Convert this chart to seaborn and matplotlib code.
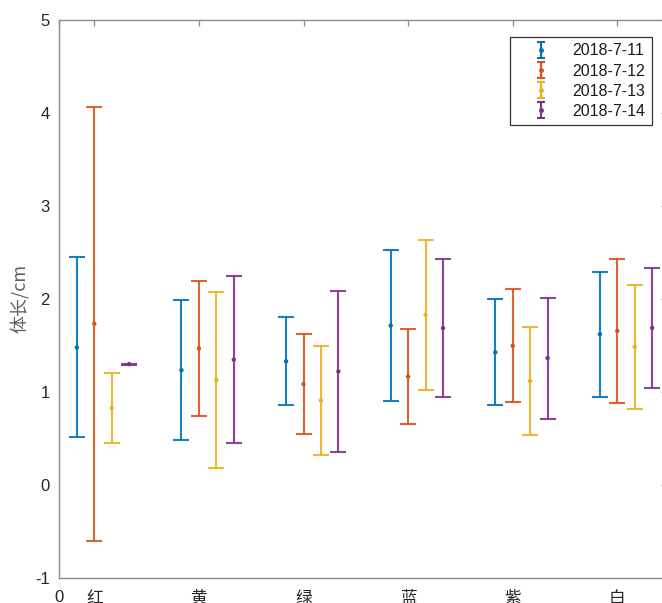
import numpy as np
import pandas as pd
import matplotlib
matplotlib.use("Agg")
import matplotlib.pyplot as plt
import seaborn as sns
from matplotlib.lines import Line2D
from matplotlib.collections import LineCollection
from matplotlib.container import ErrorbarContainer

# Colour groups on the x axis and the four sampling dates
categories = ["红", "黄", "绿", "蓝", "紫", "白"]
dates = ["2018-7-11", "2018-7-12", "2018-7-13", "2018-7-14"]

# Mean body length (cm) per colour group, one list per date
mean_0711 = [1.477, 1.233, 1.328, 1.712, 1.425, 1.620]
mean_0712 = [1.733, 1.466, 1.083, 1.163, 1.495, 1.655]
mean_0713 = [0.826, 1.126, 0.907, 1.828, 1.115, 1.484]
mean_0714 = [1.298, 1.346, 1.219, 1.685, 1.362, 1.688]

# Standard deviation (cm) per colour group, one list per date
err_0711 = [0.968, 0.756, 0.475, 0.809, 0.572, 0.674]
err_0712 = [2.335, 0.731, 0.538, 0.511, 0.606, 0.773]
err_0713 = [0.378, 0.947, 0.584, 0.806, 0.585, 0.667]
err_0714 = [0.005, 0.898, 0.868, 0.739, 0.652, 0.645]

means = [mean_0711, mean_0712, mean_0713, mean_0714]
errs = [err_0711, err_0712, err_0713, err_0714]
colors = ["#0072BD", "#D95319", "#EDB120", "#7E2F8E"]
offsets = [-1 / 6, 0.0, 1 / 6, 2 / 6]

sns.set_theme(style="white")
plt.rcParams["font.family"] = ["Liberation Sans", "Noto Sans CJK SC", "DejaVu Sans"]

W, H = 662, 603
fig = plt.figure(figsize=(W / 100, H / 100), dpi=100)
ax = fig.add_axes([59.3 / W, (H - 577.7) / H, (667 - 59.3) / W, (577.7 - 20) / H])

rows = []
for d, m, e, off in zip(dates, means, errs, offsets):
    for i, (mv, ev) in enumerate(zip(m, e)):
        rows.append({"date": d, "x": i + 1 + off, "mean": mv, "err": ev})
df = pd.DataFrame(rows)

for d, c in zip(dates, colors):
    sub = df[df["date"] == d]
    ax.errorbar(sub["x"], sub["mean"], yerr=sub["err"], fmt="none",
                ecolor=c, elinewidth=1.5, capsize=6, capthick=1.5, alpha=0.9)

sns.scatterplot(data=df, x="x", y="mean", hue="date", palette=colors,
                s=10, marker="o", edgecolor="none", legend=False, ax=ax, zorder=3)

# Legend entries: vertical bar with caps and a centre dot
leg_handles = []
for c in colors:
    line = Line2D([], [], color=c, marker="o", markersize=2.5, linestyle="none")
    bar = LineCollection([], colors=c, linewidths=1.5)
    cap = Line2D([], [], color=c, marker="_", markersize=6, mew=1.5, linestyle="none")
    leg_handles.append(ErrorbarContainer((line, (cap, cap), (bar,)), has_yerr=True))

leg = ax.legend(leg_handles, dates, loc="upper right",
                bbox_to_anchor=(652 / W, 1 - 37 / H), bbox_transform=fig.transFigure,
                borderaxespad=0, fontsize=11.5, frameon=True, fancybox=False,
                handlelength=3.2, handletextpad=0.35, labelspacing=0.32,
                borderpad=0.4, edgecolor="#333333", framealpha=1)
leg.get_frame().set_linewidth(0.9)
for t in leg.get_texts():
    t.set_color("#1a1a1a")

ax.set_xlim(0.6654, 6.475)
ax.set_ylim(-1, 5)
ax.set_xticks([0.6654, 1, 2, 3, 4, 5, 6])
ax.set_xticklabels(["0"] + categories)
for lab in ax.get_xticklabels()[1:]:
    lab.set_fontfamily(["Noto Sans CJK SC", "DejaVu Sans"])
ax.set_yticks(np.arange(-1, 6, 1))
ax.set_yticklabels([str(v) for v in range(-1, 6)])

ax.tick_params(axis="both", direction="in", length=4, width=0.9,
               colors="#8a8a8a", labelcolor="#262626", labelsize=12,
               top=True, right=True)
ax.tick_params(axis="x", pad=9)
ax.tick_params(axis="y", pad=7)
for s in ax.spines.values():
    s.set_color("#8a8a8a")
    s.set_linewidth(1.0)

ax.set_xlabel("")
ax.set_ylabel("体长/cm", fontsize=13, color="#606060",
              fontfamily=["Noto Sans CJK SC", "DejaVu Sans"])
ax.yaxis.set_label_coords((30 - 59.3) / (667 - 59.3), 0.5)

fig.savefig("out.png", dpi=100)
